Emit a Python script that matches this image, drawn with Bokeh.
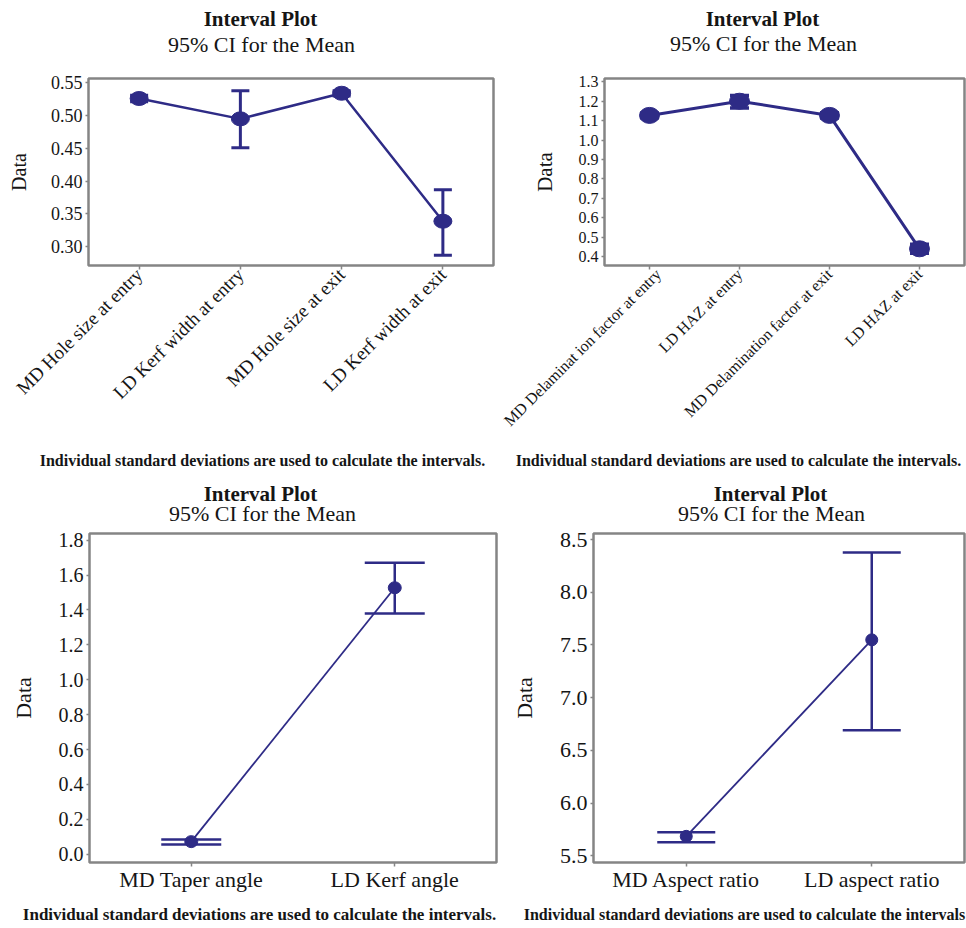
import math
from bokeh.plotting import figure
from bokeh.models import Range1d, FixedTicker, NumeralTickFormatter, FactorRange
from bokeh.core.properties import value
from bokeh.layouts import column, row
from bokeh.embed import file_html
from bokeh.resources import INLINE

# ---------------- data ----------------
tl_cats = ["MD Hole size at entry", "LD Kerf width at entry", "MD Hole size at exit", "LD Kerf width at exit"]
tl_mean = [0.526, 0.495, 0.534, 0.339]
tl_low = [0.521, 0.451, 0.530, 0.287]
tl_high = [0.531, 0.538, 0.538, 0.387]
tl_yticks = [0.30, 0.35, 0.40, 0.45, 0.50, 0.55]

tr_cats = ["MD Delaminat ion factor at entry", "LD HAZ at entry", "MD Delamination factor at exit", "LD HAZ at exit"]
tr_mean = [1.127, 1.200, 1.127, 0.440]
tr_low = [1.115, 1.165, 1.113, 0.417]
tr_high = [1.139, 1.230, 1.141, 0.463]
tr_yticks = [0.4, 0.5, 0.6, 0.7, 0.8, 0.9, 1.0, 1.1, 1.2, 1.3]

bl_cats = ["MD Taper angle", "LD Kerf angle"]
bl_mean = [0.072, 1.527]
bl_low = [0.055, 1.380]
bl_high = [0.084, 1.670]
bl_yticks = [0.0, 0.2, 0.4, 0.6, 0.8, 1.0, 1.2, 1.4, 1.6, 1.8]

br_cats = ["MD Aspect ratio", "LD aspect ratio"]
br_mean = [5.684, 7.548]
br_low = [5.627, 6.690]
br_high = [5.722, 8.376]
br_yticks = [5.5, 6.0, 6.5, 7.0, 7.5, 8.0, 8.5]

TITLE = "Interval Plot"
SUBTITLE = "95% CI for the Mean"
NOTE = "Individual standard deviations are used to calculate the intervals."
NOTE_BR = "Individual standard deviations are used to calculate the intervals"

COLOR = "#2E2B86"
FRAME = "#858585"
FONT = "Liberation Serif"
TXT = "#151515"
PAGE_W = 966


def panel(cats, mean, low, high, yticks, ylim, fmt, c):
    p = figure(x_range=FactorRange(*cats), y_range=Range1d(*ylim),
               frame_width=c["fw"], frame_height=c["fh"],
               min_border_left=c["left"], min_border_right=c["right"],
               min_border_top=c["top"], min_border_bottom=c["bottom"],
               output_backend="svg", toolbar_location=None,
               background_fill_color="white", border_fill_color="white")
    p.grid.visible = False
    p.outline_line_color = FRAME
    p.outline_line_width = 2.5

    ya = p.yaxis[0]
    ya.ticker = FixedTicker(ticks=yticks)
    ya.formatter = NumeralTickFormatter(format=fmt)
    ya.axis_line_color = None
    ya.major_tick_line_color = FRAME
    ya.major_tick_line_width = 1.5
    ya.major_tick_out = 3
    ya.major_tick_in = 0
    ya.minor_tick_line_color = None
    ya.major_label_standoff = 3
    ya.major_label_text_font = FONT
    ya.major_label_text_font_size = c["ytick_fs"]
    ya.major_label_text_color = TXT
    ya.axis_label = "Data"
    ya.axis_label_text_font = FONT
    ya.axis_label_text_font_style = "normal"
    ya.axis_label_text_font_size = c["ylab_fs"]
    ya.axis_label_text_color = TXT
    ya.axis_label_standoff = c["ylab_standoff"]

    xa = p.xaxis[0]
    xa.axis_line_color = None
    xa.major_tick_line_color = FRAME
    xa.major_tick_line_width = 1.5
    xa.major_tick_out = 4
    xa.major_tick_in = 0
    xa.major_label_standoff = c["xstand"]
    xa.major_label_text_font = FONT
    xa.major_label_text_font_size = c["xtick_fs"]
    xa.major_label_text_color = TXT
    if c["rot"]:
        xa.major_label_orientation = math.pi / 4

    p.line(x=cats, y=mean, line_color=COLOR, line_width=c["lw"])
    p.segment(x0=cats, y0=low, x1=cats, y1=high, line_color=COLOR, line_width=c["ew"])
    p.scatter(x=cats, y=high, marker="dash", size=c["cap"], line_color=COLOR, line_width=c["ew"])
    p.scatter(x=cats, y=low, marker="dash", size=c["cap"], line_color=COLOR, line_width=c["ew"])
    p.ellipse(x=cats, y=mean, width=c["dw"], height=c["dh"], width_units="screen",
              height_units="screen", fill_color=COLOR, line_color=COLOR)
    return p


def strip(height, items):
    """items: list of (x, y, text, size, style) in pixels of this strip."""
    s = figure(width=PAGE_W, height=height, x_range=Range1d(0, PAGE_W), y_range=Range1d(height, 0),
               min_border=0, x_axis_location=None, y_axis_location=None,
               output_backend="svg", toolbar_location=None, outline_line_color=None,
               background_fill_color="white", border_fill_color="white")
    s.grid.visible = False
    for (x, y, t, size, style) in items:
        s.text(x=[x], y=[y], text=[t], text_font=value(FONT), text_font_size=size,
               text_font_style=style, text_align="center", text_baseline="middle", text_color=TXT)
    return s


tl = panel(tl_cats, tl_mean, tl_low, tl_high, tl_yticks, (0.2715, 0.5565), "0.00",
           dict(fw=405, fh=187, left=88, right=7, top=10, bottom=181,
                ytick_fs="18px", ylab_fs="20px", ylab_standoff=18, xtick_fs="19px", xstand=2, rot=True,
                lw=2.5, ew=3, cap=18, dw=18, dh=14))

tr = panel(tr_cats, tr_mean, tr_low, tr_high, tr_yticks, (0.354, 1.317), "0.0",
           dict(fw=360, fh=187, left=104, right=2, top=10, bottom=181,
                ytick_fs="16px", ylab_fs="21px", ylab_standoff=19, xtick_fs="16px", xstand=2, rot=True,
                lw=3, ew=3.5, cap=19, dw=20, dh=16))

bl = panel(bl_cats, bl_mean, bl_low, bl_high, bl_yticks, (-0.0476, 1.838), "0.0",
           dict(fw=407, fh=329, left=89, right=4, top=5, bottom=36,
                ytick_fs="20px", ylab_fs="22px", ylab_standoff=20, xtick_fs="22px", xstand=0, rot=False,
                lw=1.8, ew=2.5, cap=60, dw=13, dh=12))

br = panel(br_cats, br_mean, br_low, br_high, br_yticks, (5.436, 8.557), "0.0",
           dict(fw=371, fh=329, left=93, right=2, top=5, bottom=36,
                ytick_fs="22px", ylab_fs="22px", ylab_standoff=20, xtick_fs="22px", xstand=0, rot=False,
                lw=1.8, ew=2.5, cap=58, dw=12, dh=12))

head1 = strip(68, [(260, 18, TITLE, "21px", "bold"), (261, 44, SUBTITLE, "22px", "normal"),
                   (762, 18, TITLE, "21px", "bold"), (763, 43, SUBTITLE, "22px", "normal")])
foot1 = strip(30, [(262, 14, NOTE, "16px", "bold"), (738, 14, NOTE, "16px", "bold")])
head2 = strip(52, [(260, 17, TITLE, "21px", "bold"), (262, 37, SUBTITLE, "22px", "normal"),
                   (770, 17, TITLE, "21px", "bold"), (771, 37, SUBTITLE, "22px", "normal")])
foot2 = strip(28, [(259, 16, NOTE, "17px", "bold"), (744, 16, NOTE_BR, "16px", "bold")])

layout = column(head1, row(tl, tr), foot1, head2, row(bl, br), foot2)
open("out.html", "w").write(file_html(layout, INLINE))
